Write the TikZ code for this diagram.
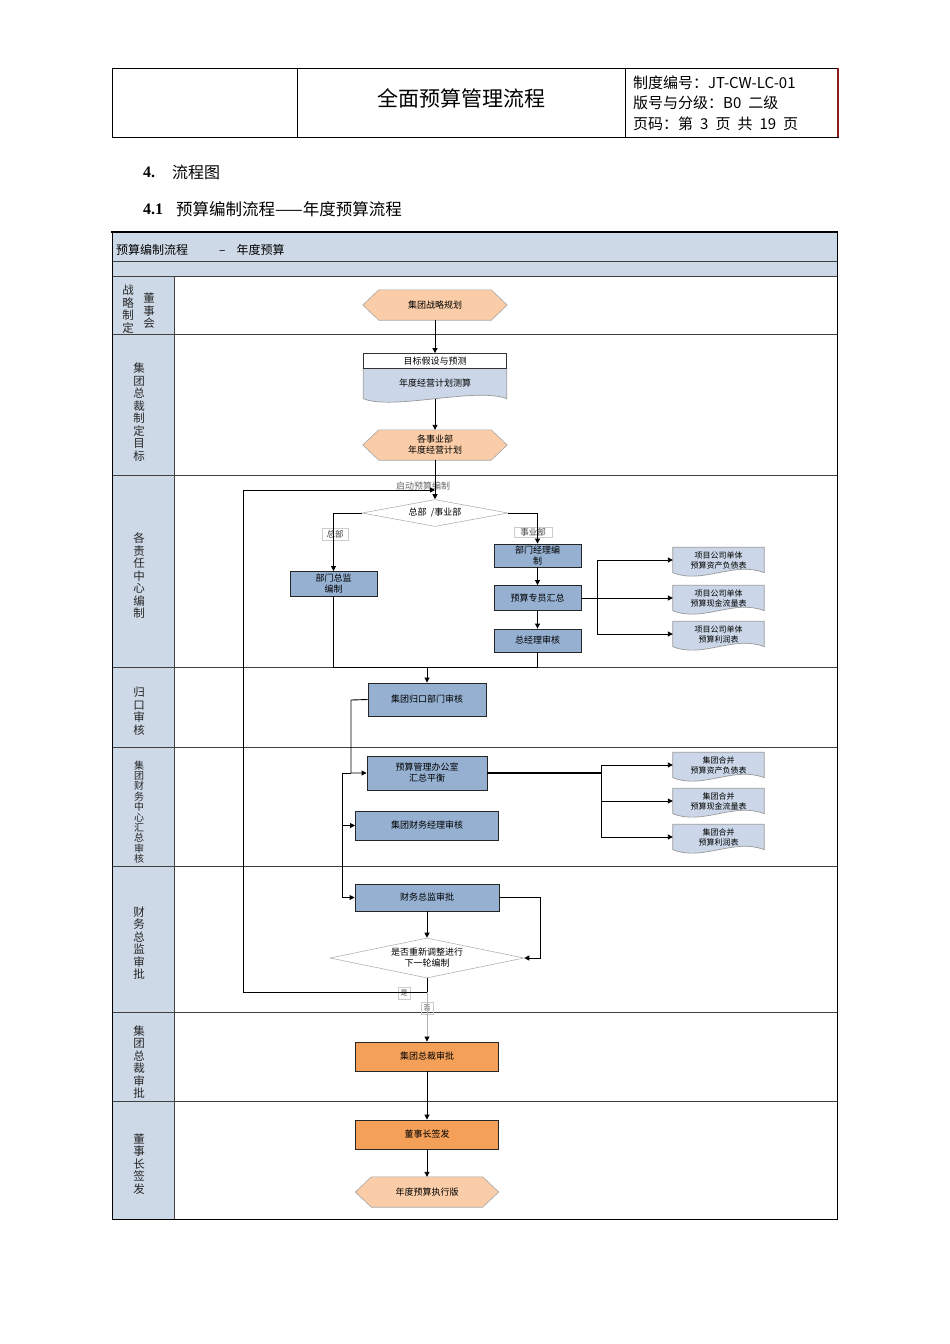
\documentclass[tikz,border=0pt]{standalone}
\usepackage{fontspec}
\setmainfont{Noto Sans CJK SC}
\newfontfamily\headnum{Liberation Serif}
\usetikzlibrary{arrows.meta,shapes.geometric,backgrounds}

\definecolor{lanefill}{RGB}{205,217,231}
\definecolor{boxblue}{RGB}{149,176,209}
\definecolor{docblue}{RGB}{203,215,232}
\definecolor{peach}{RGB}{250,205,168}
\definecolor{orangebox}{RGB}{245,160,88}
\definecolor{headred}{RGB}{140,30,30}

\newcommand\boxfont{\fontsize{9}{11}\selectfont}
\newcommand\docfont{\fontsize{8}{10}\selectfont}
\newcommand\lanefont{\fontsize{11.5}{12.5}\selectfont}
\newcommand\tagfont{\fontsize{8.5}{9}\selectfont}

\begin{document}
\begin{tikzpicture}[x=1pt, y=-1pt,
  every node/.style={inner sep=0pt},
  task/.style={draw=black!85, fill=boxblue, line width=0.9pt, align=center, font=\boxfont},
  boss/.style={task, fill=orangebox},
  hexa/.style={minimum width=143pt, minimum height=30pt, align=center, font=\boxfont},
  docu/.style={minimum width=91pt, minimum height=25pt, align=center, font=\docfont},
  choice/.style={diamond, draw=gray!60, line width=0.6pt, align=center, font=\boxfont},
  lanetxt/.style={align=center, font=\lanefont, text=black!85},
  branchtag/.style={draw=gray!40, line width=0.5pt, font=\tagfont, text=black!75},
  laneline/.style={draw=black!75, line width=0.9pt},
  wire/.style={line width=0.9pt},
  flow/.style={wire, -{Triangle[length=5pt,width=5pt]}}]
  \useasboundingbox (0,0) rectangle (950,1344);

  % Page header
  \draw[line width=0.8pt] (112,68) rectangle (838,137);
  \draw[line width=0.8pt] (297,68) -- (297,137) (625,68) -- (625,137);
  \draw[headred, line width=1.2pt] (838,68) -- (838,137);
  \node[font=\fontsize{21}{24}\selectfont] (doctitle) at (461,98) {全面预算管理流程};
  \node[anchor=west, font=\fontsize{15}{18}\selectfont] (docno) at (633,83) {制度编号：JT-CW-LC-01};
  \node[anchor=west, font=\fontsize{15}{18}\selectfont] (docver) at (633,103) {版号与分级：B0\hspace{7pt}二级};
  \node[anchor=west, font=\fontsize{15}{18}\selectfont] (docpage) at (633,124)
    {页码：第\hspace{7pt}3\hspace{7pt}页\hspace{7pt}共\hspace{7pt}19\hspace{7pt}页};

  % Section headings
  \node[anchor=west, font=\headnum\bfseries\fontsize{16}{18}\selectfont] (secnum) at (143,172) {4.};
  \node[anchor=west, font=\fontsize{16}{18}\selectfont] (sectitle) at (172,172) {流程图};
  \node[anchor=west, font=\headnum\bfseries\fontsize{16}{18}\selectfont] (subnum) at (143,209) {4.1};
  \node[anchor=west, font=\fontsize{16.5}{18}\selectfont] (subtitle) at (176,209) {预算编制流程——年度预算流程};

  % Swimlane frame
  \fill[lanefill] (112,232) rectangle (837,276);
  \fill[lanefill] (112,276) rectangle (174,1219);
  \draw[laneline] (112,261) -- (837,261);
  \foreach \y in {276,334,475,667,747,866,1012,1101}
    \draw[laneline] (112,\y) -- (837,\y);
  \draw[laneline] (174,276) -- (174,1219);
  \draw[line width=0.9pt] (112,232) rectangle (837,1219);
  \draw[line width=2.5pt] (111,232) -- (838,232);
  \node[anchor=west, font=\fontsize{12}{14}\selectfont] (bandtitle) at (116,250)
    {预算编制流程\hspace{31pt}–\hspace{11pt}年度预算};

  % Lane labels
  \node[lanetxt] (lane1a) at (128,309) {战\\略\\制\\定};
  \node[lanetxt] (lane1b) at (149,311) {董\\事\\会};
  \foreach \name/\y/\txt in {lane2/412/{集\\团\\总\\裁\\制\\定\\目\\标},
      lane3/576/{各\\责\\任\\中\\心\\编\\制}, lane4/711/{归\\口\\审\\核},
      lane6/943/{财\\务\\总\\监\\审\\批}, lane7/1062/{集\\团\\总\\裁\\审\\批},
      lane8/1164/{董\\事\\长\\签\\发}}
    \node[lanetxt] (\name) at (139,\y) {\txt};
  \node[lanetxt, font=\fontsize{10}{10.4}\selectfont] (lane5) at (139,812)
    {集\\团\\财\\务\\中\\心\\汇\\总\\审\\核};

  % Target setting
  \node[hexa, minimum width=144pt] (strat) at (435,305) {集团战略规划};
  \node[draw=black!80, fill=white, line width=0.8pt, minimum width=143pt, minimum height=15pt,
    font=\boxfont] (goal) at (435,361) {目标假设与预测};
  \node[docu, minimum width=143pt, minimum height=30pt, font=\boxfont] (plan) at (435,383.5) {年度经营计划测算};
  \node[hexa, minimum width=144pt] (units) at (435,445) {各事业部\\年度经营计划};

  % Responsibility centres
  \node[font=\boxfont, text=black!60] (startlbl) at (423,486) {启动预算编制};
  \node[choice, aspect=5.4, minimum width=146pt, minimum height=27pt] (split) at (435,513) {总部\ \ /事业部};
  \node[branchtag, minimum width=26pt, minimum height=12pt] (taghq) at (335,534) {总部};
  \node[branchtag, minimum width=38pt, minimum height=10pt] (tagbu) at (533,532) {事业部};
  \node[task, minimum width=87pt, minimum height=25pt] (head) at (333.5,584) {部门总监\\编制};
  \node[task, minimum width=87pt, minimum height=23pt] (mgr) at (537.5,555.5) {部门经理编\\制};
  \node[task, minimum width=87pt, minimum height=25pt] (clerk) at (537.5,598) {预算专员汇总};
  \node[task, minimum width=87pt, minimum height=23pt] (gm) at (537.5,640.5) {总经理审核};
  \foreach \n/\y/\txt in {p1/560/预算资产负债表, p2/598/预算现金流量表, p3/634/预算利润表}
    \node[docu] (\n) at (718.5,\y) {项目公司单体\\\txt};

  % Group review
  \node[task, minimum width=118pt, minimum height=33pt] (gui) at (427,699.5) {集团归口部门审核};
  \node[task, minimum width=120pt, minimum height=34pt] (office) at (427,773) {预算管理办公室\\汇总平衡};
  \node[task, minimum width=143pt, minimum height=29pt] (fmgr) at (427,825.5) {集团财务经理审核};
  \foreach \n/\y/\txt in {c1/765/预算资产负债表, c2/801/预算现金流量表, c3/837/预算利润表}
    \node[docu] (\n) at (718.5,\y) {集团合并\\\txt};

  % Approval
  \node[task, minimum width=144pt, minimum height=27pt] (fin) at (427,897.5) {财务总监审批};
  \node[choice, aspect=4.85, minimum width=194pt, minimum height=40pt] (redo) at (427,958)
    {是否重新调整进行\\下一轮编制};
  \node[branchtag, minimum width=12pt, minimum height=12pt, font=\fontsize{7}{8}\selectfont] (tagyes) at (404,993) {是};
  \node[branchtag, minimum width=12pt, minimum height=12pt, font=\fontsize{7}{8}\selectfont] (tagno) at (427,1008) {否};
  \node[boss, minimum width=143pt, minimum height=29pt] (ceo) at (427,1056.5) {集团总裁审批};
  \node[boss, minimum width=143pt, minimum height=29pt] (chair) at (427,1134.5) {董事长签发};
  \node[hexa] (final) at (427,1192) {年度预算执行版};

  % Shapes behind the texts
  \begin{scope}[on background layer]
    \foreach \n in {strat, units, final}
      \filldraw[fill=peach, draw=black!35, line width=0.6pt]
        (\n.west) -- ([xshift=16pt]\n.north west) -- ([xshift=-16pt]\n.north east)
        -- (\n.east) -- ([xshift=-16pt]\n.south east) -- ([xshift=16pt]\n.south west) -- cycle;
    \foreach \n in {plan, p1, p2, p3, c1, c2, c3}
      \filldraw[fill=docblue, draw=gray!80, line width=0.7pt]
        (\n.north west) -- (\n.north east) -- (\n.south east)
        .. controls +(-30pt,12pt) and +(30pt,-12pt) .. (\n.south west) -- cycle;
  \end{scope}

  % Connectors, top part
  \draw[flow] (strat) -- (goal);
  \draw[flow] (plan) -- (units);
  \draw[flow] (units) -- (split);
  \draw[flow] (split.west) -| (head.north);
  \draw[flow] (split.east) -| (mgr.north);
  \draw[flow] (mgr) -- (clerk);
  \draw[flow] (clerk) -- (gm);
  \coordinate (pfork) at (597,598);
  \draw[wire] (clerk.east) -- (pfork);
  \foreach \d in {p1,p2,p3}
    \draw[flow] (pfork) |- (\d.west);

  % Into group review
  \coordinate (join) at (427,667);
  \draw[flow] (gm.south) |- (join) -- (gui.north);
  \draw[wire] (head.south) |- (join);
  \coordinate (gleft) at (351,700);
  \draw[flow] (gui.west) -- (gleft) |- (office.west);
  \coordinate (fork) at (342,773);
  \draw[wire] (fork) -- (gleft |- fork);
  \draw[flow] (fork) |- (fmgr.west);
  \draw[flow] (fork) |- (fin.west);
  \coordinate (ofork) at (601,773);
  \draw[line width=1.8pt] (office.east) -- (ofork);
  \foreach \d in {c1,c2,c3}
    \draw[flow] (ofork) |- (\d.west);

  % Approval loop
  \draw[flow] (fin) -- (redo);
  \coordinate (rloop) at (540,958);
  \draw[flow] (fin.east) -| (rloop) -- (redo.east);
  \coordinate (yes) at (427,992);
  \coordinate (back) at (243,490);
  \coordinate (entry) at (435,490);
  \draw[flow] (redo.south) -- (yes) -| (back) -- (entry);
  \draw[wire, gray!60, -{Triangle[length=5pt,width=5pt,color=black]}] (yes) -- (ceo.north);
  \draw[flow] (ceo) -- (chair);
  \draw[flow] (chair) -- (final);
\end{tikzpicture}
\end{document}
